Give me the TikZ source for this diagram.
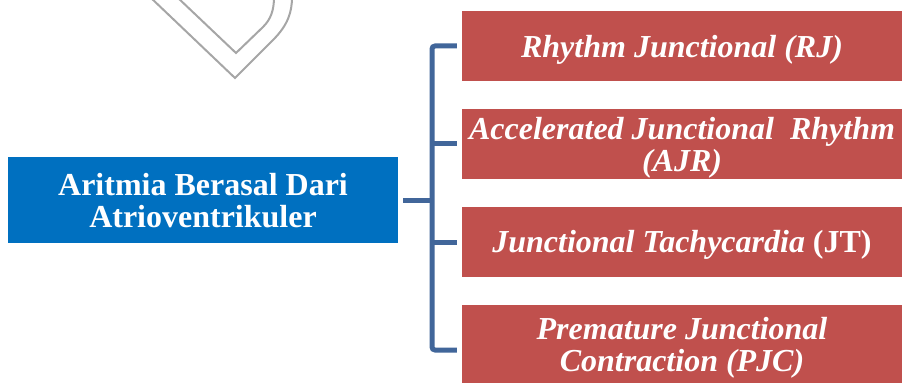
\documentclass[tikz,border=0pt]{standalone}
\usepackage{fontspec}
\setmainfont{Liberation Serif}
\begin{document}
\definecolor{boxred}{HTML}{C0504D}
\definecolor{boxblue}{HTML}{0070C0}
\definecolor{linkblue}{HTML}{41669A}
\definecolor{heartgray}{HTML}{A6A6A6}
\begin{tikzpicture}[x=1pt,y=-1pt,
  basetext/.style={inner sep=0pt, text=white, align=center,
    font=\fontsize{32}{32}\selectfont\bfseries},
  leaftext/.style={basetext, font=\fontsize{32}{32}\selectfont\bfseries\itshape},
  rootbox/.style={rectangle, inner sep=0pt, fill=boxblue, minimum width=390pt, minimum height=86pt},
  leafbox/.style={rectangle, inner sep=0pt, fill=boxred, minimum width=440pt, minimum height=70pt},
  bracket/.style={draw=linkblue, line width=5pt},
  outline/.style={draw=heartgray, line width=2pt}]
\useasboundingbox (0,0) rectangle (902,385);
\begin{scope}
\clip (0,0) rectangle (902,385);
% decorative heart tip outline
\draw[outline] (150,-3) -- (235,78) -- (273,40) .. controls (288,25) and (292,12) .. (292,-3);
\draw[outline] (177,-3) -- (236,53) -- (263,27) .. controls (271,19) and (274,10) .. (274,-3);

% root node
\node[rootbox] (root) at (203,200) {};
\node[basetext] (roottext) at ([yshift=-1pt]root.center) {Aritmia Berasal Dari\\Atrioventrikuler};

% leaves
\node[leafbox] (rj)  at (682,46)  {};
\node[leafbox] (ajr) at (682,144) {};
\node[leafbox] (jt)  at (682,242) {};
\node[leafbox, minimum height=78pt] (pjc) at (682,344) {};
\node[leaftext] (rjtext)  at ([yshift=-4pt]rj.center)  {Rhythm Junctional (RJ)};
\node[leaftext] (ajrtext) at ([yshift=-4pt]ajr.center) {Accelerated Junctional\ \ Rhythm\\(AJR)};
\node[leaftext] (jttext)  at ([yshift=-3pt]jt.center)  {Junctional Tachycardia \upshape(JT)};
\node[leaftext] (pjctext) at ([yshift=-4pt]pjc.center) {Premature Junctional\\Contraction (PJC)};

% bracket connecting root to leaves
\coordinate (spinetop) at (432,46);
\draw[bracket, rounded corners=3pt] ([xshift=-5pt]rj.west) -- (spinetop) -- (432,350) -- ([xshift=-5pt,yshift=-6pt]pjc.west);
\draw[bracket] ([xshift=5pt]root.east) -- (432,200);
\draw[bracket] (432,144) -- ([xshift=-5pt]ajr.west);
\draw[bracket] (432,242) -- ([xshift=-5pt]jt.west);
\end{scope}
\end{tikzpicture}
\end{document}
